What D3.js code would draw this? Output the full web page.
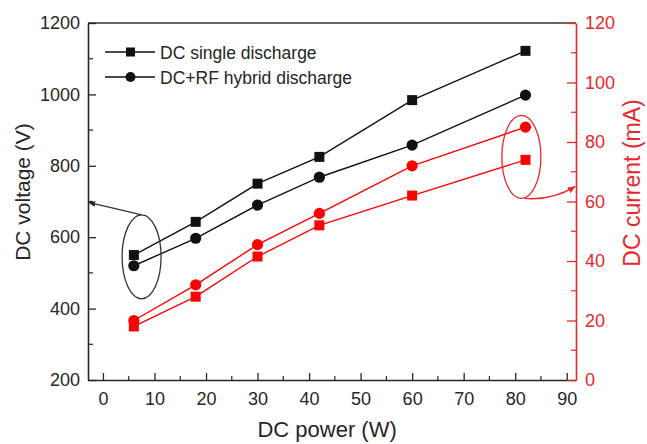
<!DOCTYPE html>
<html><head><meta charset="utf-8">
<script src="https://cdn.jsdelivr.net/npm/d3@7"></script>
<style>
html,body{margin:0;padding:0;background:#fff;}
text{font-family:"Liberation Sans",Arial,sans-serif;}
</style></head>
<body><svg id="c" width="647" height="444"></svg>
<script>
// ---- data ----
const power = [6, 18, 30, 42, 60, 82];
const voltSingle = [550, 643, 750, 825, 984, 1122];
const voltHybrid = [520, 597, 690, 768, 858, 998];
const currSingle = [18, 28, 41.5, 52, 62, 74];
const currHybrid = [20, 32, 45.5, 56, 72, 85];
const xTicks = [0, 10, 20, 30, 40, 50, 60, 70, 80, 90];
const yLeftTicks = [200, 400, 600, 800, 1000, 1200];
const yRightTicks = [0, 20, 40, 60, 80, 100, 120];
const legendLabels = ["DC single discharge", "DC+RF hybrid discharge"];
const xTitle = "DC power (W)", yLeftTitle = "DC voltage (V)", yRightTitle = "DC current (mA)";
// annotation anchors (data space)
const leftEllipse = {x: 7.5, v: 545, arrowTo: 697};
const rightEllipse = {x: 81.2, c: 75, arrowTo: 65};

const svg = d3.select("#c");
const L = 88, R = 576, T = 23, B = 380;
const BLACK = "#262626", RED = "#ff0000", RAXIS = "#e8262b";

const x = d3.scaleLinear().domain([-2.9, 91.8]).range([L, R]);
const yL = d3.scaleLinear().domain([200, 1200]).range([B, T]);
const yR = d3.scaleLinear().domain([0, 120]).range([B, T]);
const fmt = d3.format("d");

svg.append("defs").html(`
<marker id="ahB" viewBox="0 0 10 10" refX="9" refY="5" markerWidth="7" markerHeight="7" orient="auto" markerUnits="userSpaceOnUse"><path d="M0,1 L10,5 L0,9 Z" fill="${BLACK}"/></marker>
<marker id="ahR" viewBox="0 0 10 10" refX="9" refY="5" markerWidth="8" markerHeight="8" orient="auto" markerUnits="userSpaceOnUse"><path d="M0,1 L10,5 L0,9 Z" fill="${RAXIS}"/></marker>`);

// top frame
svg.append("line").attr("x1", L).attr("x2", R).attr("y1", T).attr("y2", T)
  .attr("stroke", "#333").attr("stroke-width", 1.6);

function styleAxis(g, color, fs) {
  g.select(".domain").attr("stroke", color).attr("stroke-width", 1.6);
  g.selectAll(".tick line").attr("stroke", color).attr("stroke-width", 1.3);
  g.selectAll(".tick text").attr("fill", color).style("font-size", fs + "px")
    .style("font-family", '"Liberation Sans",Arial,sans-serif');
}
function minor(g, scale, vals, orient, len, color) {
  vals.forEach(v => {
    const p = scale(v);
    let l;
    if (orient === "bottom") l = g.append("line").attr("x1", p).attr("x2", p).attr("y1", 0).attr("y2", -len);
    if (orient === "left") l = g.append("line").attr("y1", p).attr("y2", p).attr("x1", 0).attr("x2", len);
    if (orient === "right") l = g.append("line").attr("y1", p).attr("y2", p).attr("x1", 0).attr("x2", -len);
    l.attr("stroke", color).attr("stroke-width", 1.2);
  });
}

// x axis
const gx = svg.append("g").attr("transform", `translate(0,${B})`)
  .call(d3.axisBottom(x).tickValues(xTicks).tickFormat(fmt).tickSizeInner(-7).tickSizeOuter(0).tickPadding(12));
styleAxis(gx, BLACK, 18);
minor(gx, x, xTicks.slice(0, -1).map(v => v + 5), "bottom", 4, BLACK);

// left axis
const gl = svg.append("g").attr("transform", `translate(${L},0)`)
  .call(d3.axisLeft(yL).tickValues(yLeftTicks).tickFormat(fmt).tickSizeInner(-8).tickSizeOuter(0).tickPadding(8));
styleAxis(gl, BLACK, 18);
minor(gl, yL, yLeftTicks.slice(0, -1).map(v => v + 100), "left", 5, BLACK);

// right axis
const gr = svg.append("g").attr("transform", `translate(${R},0)`)
  .call(d3.axisRight(yR).tickValues(yRightTicks).tickFormat(fmt).tickSizeInner(-9).tickSizeOuter(0).tickPadding(9));
styleAxis(gr, RAXIS, 18);
minor(gr, yR, yRightTicks.slice(0, -1).map(v => v + 10), "right", 5, RAXIS);

// titles
svg.append("text").attr("x", x(43.5)).attr("y", 437).attr("text-anchor", "middle")
  .style("font-size", "22px").attr("fill", BLACK).text(xTitle);
svg.append("text").attr("transform", `translate(30,${(T + B) / 2 - 9.5}) rotate(-90)`)
  .attr("text-anchor", "middle").style("font-size", "21px").attr("fill", BLACK).text(yLeftTitle);
svg.append("text").attr("transform", `translate(640,${(T + B) / 2 - 18.5}) rotate(-90)`)
  .attr("text-anchor", "middle").style("font-size", "23px").attr("fill", RAXIS).text(yRightTitle);

// series
function series(vals, yS, color, shape) {
  const pts = power.map((p, i) => [x(p), yS(vals[i])]);
  svg.append("path").attr("d", d3.line()(pts)).attr("fill", "none")
    .attr("stroke", color).attr("stroke-width", 1.4);
  pts.forEach(([px, py]) => {
    if (shape === "sq") svg.append("rect").attr("x", px - 5).attr("y", py - 5)
      .attr("width", 10).attr("height", 10).attr("fill", color);
    else svg.append("circle").attr("cx", px).attr("cy", py).attr("r", 5.6).attr("fill", color);
  });
}
series(currSingle, yR, RED, "sq");
series(currHybrid, yR, RED, "ci");
series(voltSingle, yL, "#111", "sq");
series(voltHybrid, yL, "#111", "ci");

// ellipses + arrows
const lcx = x(leftEllipse.x), lcy = yL(leftEllipse.v);
svg.append("ellipse").attr("cx", lcx).attr("cy", lcy).attr("rx", 19.5).attr("ry", 42)
  .attr("fill", "none").attr("stroke", "#333").attr("stroke-width", 1.3);
const lt = yL(leftEllipse.arrowTo);
svg.append("path").attr("d", `M${lcx},${lcy - 42} Q${lcx - 30},${lt + 5} ${L + 1},${lt}`)
  .attr("fill", "none").attr("stroke", "#333").attr("stroke-width", 1.3).attr("marker-end", "url(#ahB)");

const rcx = x(rightEllipse.x), rcy = yR(rightEllipse.c);
svg.append("ellipse").attr("cx", rcx).attr("cy", rcy).attr("rx", 19.5).attr("ry", 41.5)
  .attr("fill", "none").attr("stroke", RAXIS).attr("stroke-width", 1.3);
const rt = yR(rightEllipse.arrowTo);
svg.append("path").attr("d", `M${rcx + 3},${rcy + 41.5} Q${rcx + 30},${rcy + 44} ${R - 1},${rt}`)
  .attr("fill", "none").attr("stroke", RAXIS).attr("stroke-width", 1.3).attr("marker-end", "url(#ahR)");

// legend
const legY = [52, 77];
["sq", "ci"].forEach((s, i) => {
  const g = svg.append("g");
  g.append("line").attr("x1", 105).attr("x2", 155).attr("y1", legY[i]).attr("y2", legY[i])
    .attr("stroke", "#111").attr("stroke-width", 1.4);
  if (s === "sq") g.append("rect").attr("x", 126).attr("y", legY[i] - 4.5).attr("width", 9).attr("height", 9).attr("fill", "#111");
  else g.append("circle").attr("cx", 130.5).attr("cy", legY[i]).attr("r", 5).attr("fill", "#111");
  g.append("text").attr("x", 160).attr("y", legY[i] + 6.5).style("font-size", "17.5px")
    .attr("fill", BLACK).text(legendLabels[i]);
});
</script></body></html>
